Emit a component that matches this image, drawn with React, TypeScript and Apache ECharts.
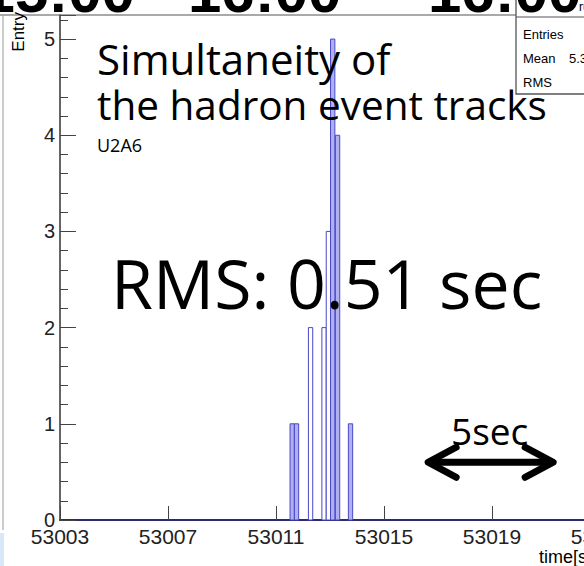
import React, { useEffect, useRef } from "react";
import * as echarts from "echarts";

// Histogram bins: left edge (s), entries per bin
const binStart = [53011.52, 53011.68, 53012.2, 53012.7, 53012.86, 53013.02, 53013.2, 53013.68];
const binCount = [1, 1, 2, 2, 3, 5, 4, 1];
const binWidth = 0.16;
// bins drawn with an unfilled body
const hollowBins = [2, 3, 4];

// Axis ranges
const xMin = 53003;
const xMax = 53027;
const xStep = 4;
const yMaxValue = 5.25;
const yMajorStep = 1;
const yMinorStep = 0.2;

// Texts
const clockLabels = ["15:00", "16:00", "16:00"];
const statLabels = ["Entries", "Mean", "RMS"];
const meanValue = "5.301e+04";
const titleLines = ["Simultaneity of", "the hadron event tracks"];
const runTag = "U2A6";
const rmsText = "RMS: 0.51 sec";
const spanText = "5sec";
const spanSeconds = [53016.45, 53021.45];

const SANS = '"Liberation Sans", Arial, sans-serif';
const BODY = '"Open Sans", "Noto Sans", sans-serif';

function txt(id: string, text: string, x: number, y: number, font: string, align = "left", vAlign = "middle", extra: any = {}) {
  return {
    id,
    type: "text",
    z: 100,
    ...extra,
    style: {
      text,
      x: extra.rotation ? 0 : x,
      y: extra.rotation ? 0 : y,
      font,
      fill: "#000",
      align,
      textAlign: align,
      verticalAlign: vAlign,
      textVerticalAlign: vAlign,
    },
    ...(extra.rotation ? { x, y } : {}),
  };
}

export default function App() {
  const ref = useRef<HTMLDivElement>(null);

  useEffect(() => {
    if (!ref.current) return;
    const chart = echarts.init(ref.current, null, { renderer: "svg" });

    const data = binStart.map((s, i) => [s, s + binWidth, binCount[i], hollowBins.includes(i) ? 1 : 0]);

    const graphics: any[] = [
      // canvas frame edges
      { id: "topEdge", type: "line", z: 50, shape: { x1: 0, y1: 15, x2: 516, y2: 15 }, style: { stroke: "#555", lineWidth: 1.2 } },
      { id: "leftEdge", type: "line", z: 50, shape: { x1: 3, y1: 15, x2: 3, y2: 530 }, style: { stroke: "#999", lineWidth: 1 } },
      { id: "slideBg", type: "rect", z: 50, shape: { x: 0, y: 533, width: 4, height: 33 }, style: { fill: "#d8e8f8" } },
      // clock labels along the top
      txt("clk0", clockLabels[0], 135, -9, `bold 60px ${SANS}`, "right"),
      txt("clk1", clockLabels[1], 188, -9, `bold 60px ${SANS}`, "left"),
      txt("clk2", clockLabels[2], 428, -9, `bold 60px ${SANS}`, "left"),
      // statistics box
      { id: "statBox", type: "rect", z: 60, shape: { x: 516, y: -20, width: 120, height: 114 }, style: { fill: "#fff", stroke: "#555", lineWidth: 1.3 } },
      { id: "statHead", type: "line", z: 61, shape: { x1: 516, y1: 17, x2: 584, y2: 17 }, style: { stroke: "#555", lineWidth: 1 } },
      txt("statName", "run", 579, 7, `12px ${SANS}`, "left"),
      txt("stat0", statLabels[0], 523, 34, `13px ${SANS}`),
      txt("stat1", statLabels[1], 523, 58, `13px ${SANS}`),
      txt("stat1v", meanValue, 569, 58, `13px ${SANS}`),
      txt("stat2", statLabels[2], 523, 82, `13px ${SANS}`),
      // axis titles
      txt("yTitle", "Entry", 18, 12, `17px ${SANS}`, "right", "middle", { rotation: Math.PI / 2 }),
      txt("xTitle", "time[sec]", 539, 557, `18px ${SANS}`, "left"),
      // annotations
      txt("t1", titleLines[0], 97, 58, `42px ${BODY}`),
      txt("t2", titleLines[1], 97, 104, `40.5px ${BODY}`),
      txt("tag", runTag, 97, 145, `18px ${BODY}`),
      txt("rms", rmsText, 111, 282, `68px ${BODY}`),
    ];

    chart.setOption({
      animation: false,
      backgroundColor: "#fff",
      grid: { left: 60, top: 15, width: 648, height: 505, show: false, outerBoundsMode: "none", containLabel: false },
      xAxis: {
        type: "value",
        min: xMin,
        max: xMax,
        interval: xStep,
        axisLine: { show: true, lineStyle: { color: "#2b2b6e", width: 2 } },
        axisTick: { show: true, inside: true, length: 14, lineStyle: { color: "#444", width: 1 } },
        axisLabel: { color: "#222", fontSize: 21, fontFamily: SANS, margin: 6, formatter: (v: number) => String(v) },
        splitLine: { show: false },
      },
      yAxis: [
        {
          type: "value",
          min: 0,
          max: yMaxValue,
          interval: yMajorStep,
          axisLine: { show: true, lineStyle: { color: "#333", width: 1.5 } },
          axisTick: { show: true, inside: true, length: 16, lineStyle: { color: "#444", width: 1 } },
          axisLabel: {
            color: "#222",
            fontSize: 20,
            fontFamily: SANS,
            margin: 5,
            formatter: (v: number) => (Number.isInteger(v) ? String(v) : ""),
          },
          splitLine: { show: false },
        },
        {
          type: "value",
          min: 0,
          max: yMaxValue,
          interval: yMinorStep,
          position: "left",
          axisLine: { show: false },
          axisTick: { show: true, inside: true, length: 8, lineStyle: { color: "#444", width: 1 } },
          axisLabel: { show: false },
          splitLine: { show: false },
        },
      ],
      series: [
        {
          type: "custom",
          xAxisIndex: 0,
          yAxisIndex: 0,
          encode: { x: [0, 1], y: 2 },
          data,
          renderItem: (_p: any, api: any) => {
            const p0 = api.coord([api.value(0), 0]);
            const p1 = api.coord([api.value(1), api.value(2)]);
            const hollow = api.value(3) === 1;
            return {
              type: "rect",
              shape: { x: p0[0], y: p1[1], width: p1[0] - p0[0], height: p0[1] - p1[1] },
              style: { fill: hollow ? "#ffffff" : "#b0b0f0", stroke: "#4848c8", lineWidth: 1 },
            };
          },
        },
      ],
      graphic: { elements: graphics },
    });

    // double arrow spanning five seconds on the time axis
    const a = chart.convertToPixel({ xAxisIndex: 0, yAxisIndex: 0 }, [spanSeconds[0], 0.6]) as number[];
    const b = chart.convertToPixel({ xAxisIndex: 0, yAxisIndex: 0 }, [spanSeconds[1], 0.6]) as number[];
    const arrowStyle = { stroke: "#000", lineWidth: 7, lineCap: "round", lineJoin: "round", fill: null };
    chart.setOption({
      graphic: {
        elements: [
          { id: "arShaft", type: "line", z: 90, shape: { x1: a[0] + 8, y1: a[1], x2: b[0] - 8, y2: b[1] }, style: arrowStyle },
          { id: "arLeft", type: "polyline", z: 90, shape: { points: [[a[0] + 33, a[1] - 15], [a[0] + 5, a[1]], [a[0] + 33, a[1] + 15]] }, style: arrowStyle },
          { id: "arRight", type: "polyline", z: 90, shape: { points: [[b[0] - 33, b[1] - 15], [b[0] - 5, b[1]], [b[0] - 33, b[1] + 15]] }, style: arrowStyle },
          txt("span", spanText, (a[0] + b[0]) / 2 - 1, 430, `37px ${BODY}`, "center"),
        ],
      },
    });

    return () => chart.dispose();
  }, []);

  return <div ref={ref} style={{ position: "fixed", left: 0, top: 0, width: 584, height: 566 }} />;
}
